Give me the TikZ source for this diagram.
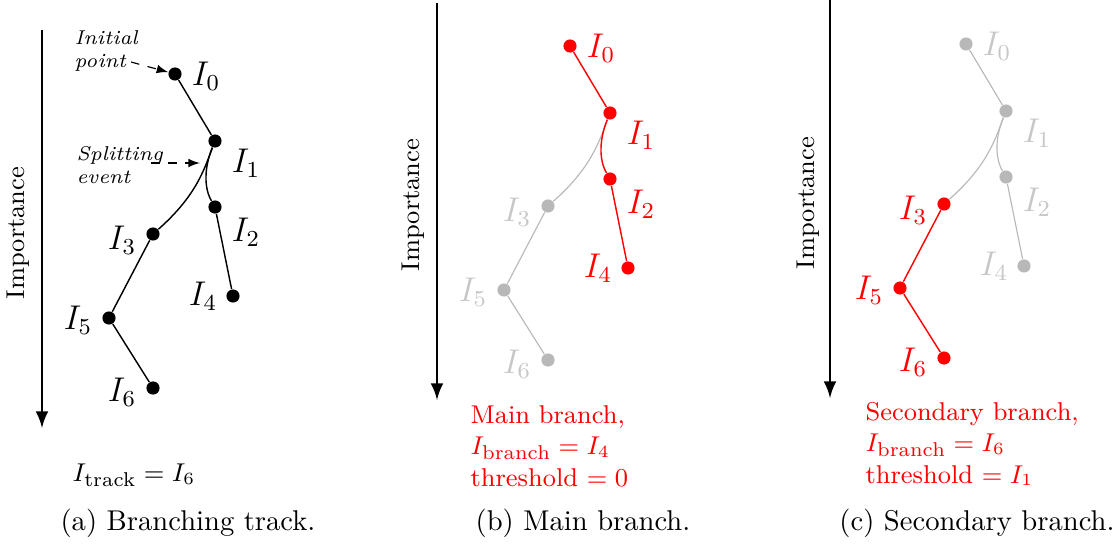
\documentclass[tikz,border=0pt]{standalone}
\usetikzlibrary{arrows}

\begin{document}
\begin{tikzpicture}[x=0.3497pt,y=-0.3497pt,
  dot/.style={circle,fill,inner sep=0pt,minimum size=4.6pt},
  track/.style={line width=0.5pt},
  faded/.style={black!28,line width=0.4pt},
  fadedtxt/.style={black!22},
  lbl/.style={font=\large},
  axis/.style={line width=1pt,-latex},
  note/.style={font=\scriptsize\itshape,align=left,anchor=west,inner sep=0pt}]
  \useasboundingbox (0,0) rectangle (1120,548);

  % (a) branching track
  \draw[axis] (42,30) -- (42,428);
  \node[rotate=90,font=\small] (aimp) at (18,233) {Importance};
  \node[dot] (a0) at (175,74) {};
  \node[dot] (a1) at (215,141) {};
  \node[dot] (a2) at (215,207) {};
  \node[dot] (a3) at (153,234) {};
  \node[dot] (a4) at (233,296) {};
  \node[dot] (a5) at (109,318) {};
  \node[dot] (a6) at (153,388) {};
  \draw[track] (a0) -- (a1);
  \draw[track] (a1) .. controls (204,168) and (204,188) .. (a2);
  \draw[track] (a1) .. controls (204,170) and (196,196) .. (a3);
  \draw[track] (a2) -- (a4);
  \draw[track] (a3) -- (a5);
  \draw[track] (a5) -- (a6);
  \node[lbl] (la0) at (206,76) {$I_0$};
  \node[lbl] (la1) at (246,163) {$I_1$};
  \node[lbl] (la2) at (246,232) {$I_2$};
  \node[lbl] (la3) at (122,240) {$I_3$};
  \node[lbl] (la4) at (203,296) {$I_4$};
  \node[lbl] (la5) at (78,320) {$I_5$};
  \node[lbl] (la6) at (122,392) {$I_6$};
  \node[note] (ainit) at (74,51) {Initial\\point};
  \coordinate (ainitp) at (131,62);
  \draw[dashed,-latex,line width=0.4pt] (ainitp) -- (a0);
  \node[note] (asplitting) at (76,165) {Splitting\\event};
  \coordinate (asplittingp) at (151,163);
  \coordinate (asplit) at (207,163);
  \draw[dashed,-latex,line width=0.4pt,shorten >=2.5pt] (asplittingp) -- (asplit);
  \node[font=\small] (atrack) at (134,475) {$I_{\mbox{\scriptsize track}}=I_6$};

  % (b) main branch
  \begin{scope}[shift={(395,-28)}]
    \draw[axis] (42,31) -- (42,428);
    \node[rotate=90,font=\small] (bimp) at (18,233) {Importance};
    \node[dot,red] (b0) at (175,74) {};
    \node[dot,red] (b1) at (215,141) {};
    \node[dot,red] (b2) at (215,207) {};
    \node[dot,faded] (b3) at (153,234) {};
    \node[dot,red] (b4) at (233,296) {};
    \node[dot,faded] (b5) at (109,318) {};
    \node[dot,faded] (b6) at (153,388) {};
    \draw[faded] (b1) .. controls (204,170) and (196,196) .. (b3);
    \draw[faded] (b3) -- (b5);
    \draw[faded] (b5) -- (b6);
    \draw[track,red] (b0) -- (b1);
    \draw[track,red] (b1) .. controls (204,168) and (204,188) .. (b2);
    \draw[track,red] (b2) -- (b4);
    \node[lbl,red] (lb0) at (206,76) {$I_0$};
    \node[lbl,red] (lb1) at (246,163) {$I_1$};
    \node[lbl,red] (lb2) at (246,232) {$I_2$};
    \node[lbl,fadedtxt] (lb3) at (122,240) {$I_3$};
    \node[lbl,red] (lb4) at (203,296) {$I_4$};
    \node[lbl,fadedtxt] (lb5) at (78,320) {$I_5$};
    \node[lbl,fadedtxt] (lb6) at (122,392) {$I_6$};
    \node[red,font=\small,align=left,anchor=west,inner sep=0pt] (bnote) at (75,474)
      {Main branch,\\$I_{\mbox{\scriptsize branch}}=I_4$\\threshold $=0$};
  \end{scope}

  % (c) secondary branch
  \begin{scope}[shift={(791,-30)}]
    \draw[axis] (39,30) -- (39,428);
    \node[rotate=90,font=\small] (cimp) at (17,233) {Importance};
    \node[dot,faded] (c0) at (175,74) {};
    \node[dot,faded] (c1) at (215,141) {};
    \node[dot,faded] (c2) at (215,207) {};
    \node[dot,red] (c3) at (153,234) {};
    \node[dot,faded] (c4) at (233,296) {};
    \node[dot,red] (c5) at (109,318) {};
    \node[dot,red] (c6) at (153,388) {};
    \draw[faded] (c0) -- (c1);
    \draw[faded] (c1) .. controls (204,168) and (204,188) .. (c2);
    \draw[faded] (c1) .. controls (204,170) and (196,196) .. (c3);
    \draw[faded] (c2) -- (c4);
    \draw[track,red] (c3) -- (c5);
    \draw[track,red] (c5) -- (c6);
    \node[lbl,fadedtxt] (lc0) at (206,76) {$I_0$};
    \node[lbl,fadedtxt] (lc1) at (246,163) {$I_1$};
    \node[lbl,fadedtxt] (lc2) at (246,232) {$I_2$};
    \node[lbl,red] (lc3) at (122,240) {$I_3$};
    \node[lbl,fadedtxt] (lc4) at (203,296) {$I_4$};
    \node[lbl,red] (lc5) at (78,320) {$I_5$};
    \node[lbl,red] (lc6) at (122,392) {$I_6$};
    \node[red,font=\small,align=left,anchor=west,inner sep=0pt] (cnote) at (74,474)
      {Secondary branch,\\$I_{\mbox{\scriptsize branch}}=I_6$\\threshold $=I_1$};
  \end{scope}

  % captions
  \node (capa) at (188,523) {(a) Branching track.};
  \node (capb) at (583,523) {(b) Main branch.};
  \node (capc) at (977,523) {(c) Secondary branch.};
\end{tikzpicture}
\end{document}
